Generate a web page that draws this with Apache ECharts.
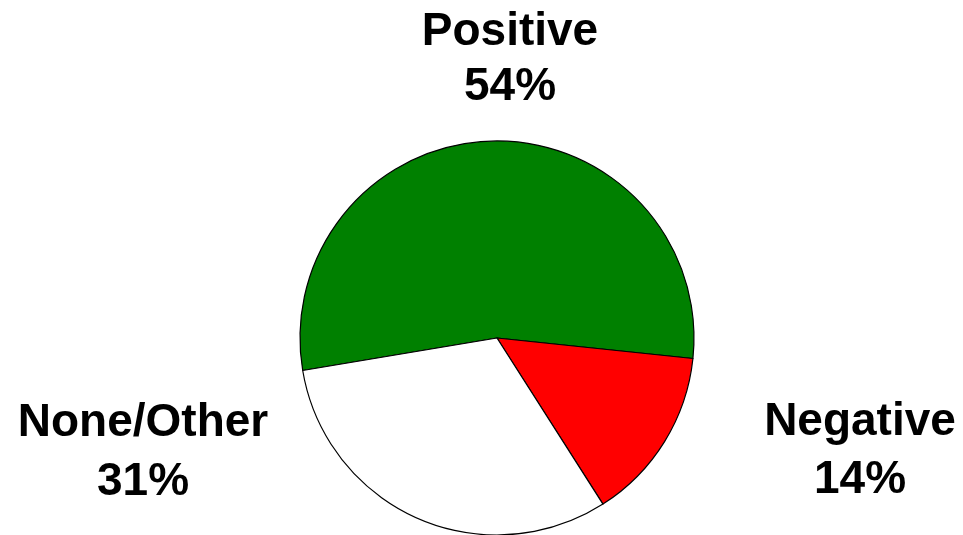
<!DOCTYPE html>
<html>
<head>
<meta charset="utf-8">
<script src="https://cdn.jsdelivr.net/npm/echarts@6/dist/echarts.min.js"></script>
<style>
html,body{margin:0;padding:0;background:#fff;}
#chart{width:963px;height:535px;}
</style>
</head>
<body>
<div id="chart"></div>
<script>
var categories = ['Positive', 'Negative', 'None/Other'];
var values = [54.3, 14.3, 31.4];
var colors = ['#008000', '#ff0000', '#ffffff'];
var labelPos = [[510, 60], [860, 451], [143, 453]];
var labelLineHeights = [55, 58, 59];

var chart = echarts.init(document.getElementById('chart'), null, {renderer: 'canvas'});
var data = categories.map(function (c, i) {
  return {
    name: c,
    value: values[i],
    itemStyle: {color: colors[i]},
    label: {lineHeight: labelLineHeights[i]}
  };
});
chart.setOption({
  animation: false,
  series: [{
    type: 'pie',
    center: [497, 338],
    radius: 197,
    startAngle: 189.5,
    clockwise: true,
    data: data,
    itemStyle: {borderColor: '#000', borderWidth: 1.2},
    emphasis: {disabled: true},
    label: {
      show: true,
      position: 'outside',
      formatter: function (p) { return p.name + '\n' + Math.round(p.value) + '%'; },
      color: '#000',
      fontFamily: 'Liberation Sans, Arial, sans-serif',
      fontWeight: 'bold',
      fontSize: 46,
      align: 'center'
    },
    labelLine: {show: false},
    labelLayout: function (params) {
      var pos = labelPos[params.dataIndex];
      return {x: pos[0], y: pos[1], align: 'center', verticalAlign: 'middle', hideOverlap: false};
    }
  }]
});
</script>
</body>
</html>
